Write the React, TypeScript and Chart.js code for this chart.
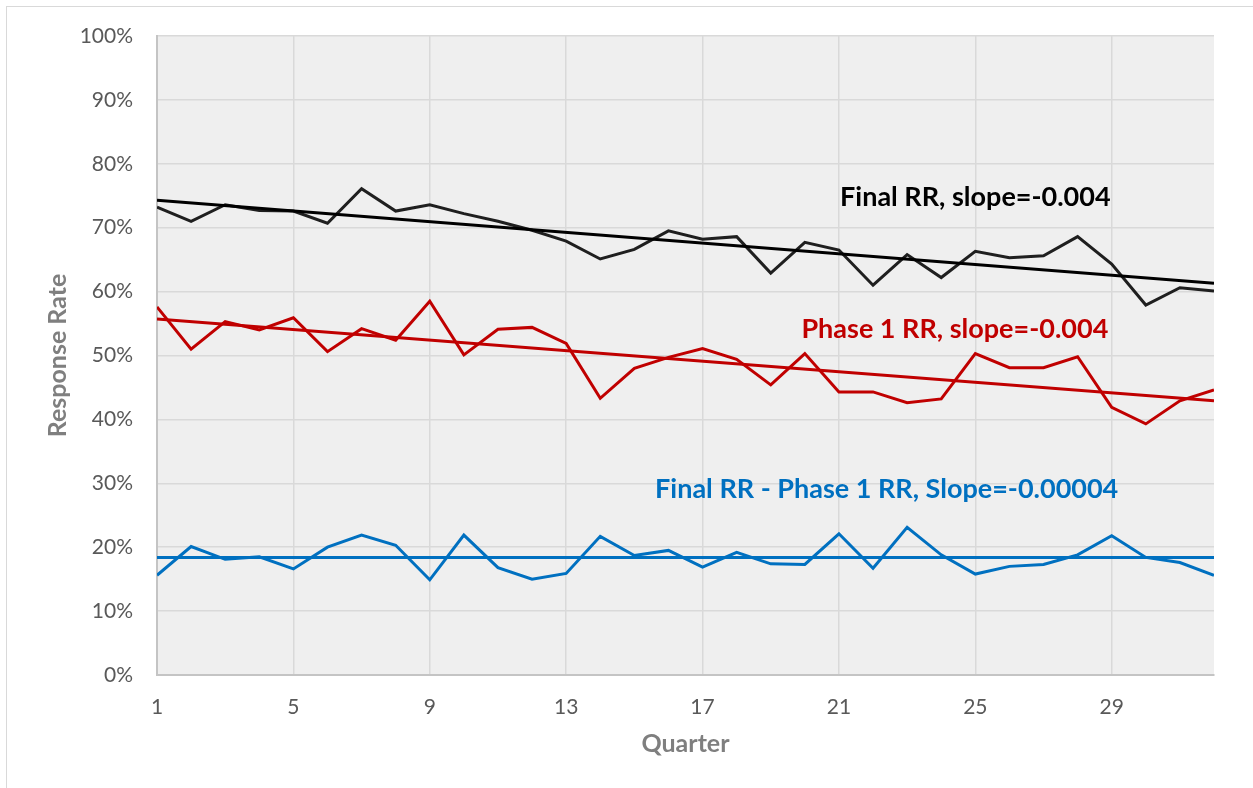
import React, { useEffect, useRef } from "react";
import { Chart, registerables } from "chart.js";

Chart.register(...registerables);

// ---- data ----
const quarters = [1, 2, 3, 4, 5, 6, 7, 8, 9, 10, 11, 12, 13, 14, 15, 16, 17, 18, 19, 20, 21, 22, 23, 24, 25, 26, 27, 28, 29, 30, 31, 32];
const finalRR = [73.2, 71.0, 73.6, 72.7, 72.6, 70.7, 76.1, 72.6, 73.6, 72.2, 71.0, 69.6, 67.9, 65.1, 66.6, 69.5, 68.2, 68.6, 62.9, 67.7, 66.5, 61.0, 65.8, 62.2, 66.3, 65.3, 65.6, 68.6, 64.3, 57.9, 60.6, 60.1];
const phase1RR = [57.6, 51.0, 55.3, 54.0, 55.9, 50.6, 54.2, 52.4, 58.5, 50.1, 54.1, 54.4, 51.9, 43.3, 48.0, 49.7, 51.1, 49.4, 45.4, 50.3, 44.3, 44.3, 42.6, 43.2, 50.3, 48.1, 48.1, 49.8, 41.9, 39.3, 42.9, 44.6];
const diffRR = [15.6, 20.1, 18.1, 18.5, 16.6, 20.0, 21.9, 20.3, 14.9, 21.9, 16.8, 15.0, 15.9, 21.7, 18.7, 19.5, 16.9, 19.2, 17.4, 17.3, 22.1, 16.7, 23.1, 18.8, 15.8, 17.0, 17.3, 18.8, 21.8, 18.4, 17.6, 15.6];

const trendX = [1, 32];
const finalTrend = [74.3, 61.3];
const phase1Trend = [55.7, 42.9];
const diffTrend = [18.4, 18.4];

const xTickValues = [1, 5, 9, 13, 17, 21, 25, 29];
const yTickStep = 10;

const labelTexts = ["Final RR, slope=-0.004", "Phase 1 RR, slope=-0.004", "Final RR - Phase 1 RR, Slope=-0.00004"];
const labelX = [25.0, 24.4, 22.4];
const labelY = [74.8, 54.1, 29.0];
const labelColors = ["#000000", "#c00000", "#0070c0"];

const FONT = "Lato, 'Open Sans', sans-serif";

const toPts = (xs: number[], ys: number[]) => xs.map((x, i) => ({ x, y: ys[i] }));

const bgPlugin = {
  id: "plotBg",
  beforeDraw(chart: any) {
    const { ctx, chartArea } = chart;
    ctx.save();
    ctx.fillStyle = "#efefef";
    ctx.fillRect(chartArea.left, chartArea.top, chartArea.right - chartArea.left, chartArea.bottom - chartArea.top);
    ctx.restore();
  },
};

const labelPlugin = {
  id: "trendLabels",
  afterDatasetsDraw(chart: any) {
    const { ctx, scales } = chart;
    ctx.save();
    ctx.font = `bold 27px ${FONT}`;
    ctx.textAlign = "center";
    ctx.textBaseline = "middle";
    labelTexts.forEach((t, i) => {
      ctx.fillStyle = labelColors[i];
      ctx.fillText(t, scales.x.getPixelForValue(labelX[i]), scales.y.getPixelForValue(labelY[i]));
    });
    ctx.restore();
  },
};

export default function App() {
  const ref = useRef<HTMLCanvasElement | null>(null);

  useEffect(() => {
    if (!ref.current) return;
    const lineDs = (label: string, xs: number[], ys: number[], color: string, order: number) => ({
      label,
      data: toPts(xs, ys),
      borderColor: color,
      backgroundColor: color,
      borderWidth: 3,
      pointRadius: 0,
      tension: 0,
      fill: false,
      order,
    });
    const chart = new Chart(ref.current, {
      type: "line",
      data: {
        datasets: [
          lineDs("Final RR", quarters, finalRR, "#1f1f1f", 6),
          lineDs("Phase 1 RR", quarters, phase1RR, "#c00000", 5),
          lineDs("Final RR - Phase 1 RR", quarters, diffRR, "#0070c0", 4),
          lineDs("Final trend", trendX, finalTrend, "#000000", 3),
          lineDs("Phase 1 trend", trendX, phase1Trend, "#c00000", 2),
          lineDs("Diff trend", trendX, diffTrend, "#0070c0", 1),
        ] as any,
      },
      options: {
        animation: false,
        responsive: false,
        devicePixelRatio: 1,
        layout: { padding: { left: 0, top: 29, right: 43, bottom: 22 } },
        plugins: { legend: { display: false }, tooltip: { enabled: false } },
        scales: {
          x: {
            type: "linear",
            min: 1,
            max: 32,
            afterBuildTicks: (s: any) => {
              s.ticks = xTickValues.map((v) => ({ value: v }));
            },
            afterFit: (s: any) => {
              s.height = 100;
            },
            grid: { color: "#d9d9d9", lineWidth: 1.5, drawTicks: false },
            border: { display: true, color: "#c4c4c4", width: 2 },
            ticks: {
              autoSkip: false,
              maxRotation: 0,
              padding: 20,
              color: "#595959",
              font: { family: FONT, size: 21 },
            },
            title: {
              display: true,
              text: "Quarter",
              color: "#7f7f7f",
              font: { family: FONT, size: 25, weight: "bold" },
              padding: { top: 0, bottom: 16 },
            },
          },
          y: {
            type: "linear",
            min: 0,
            max: 100,
            afterFit: (s: any) => {
              s.width = 150;
              s.paddingTop = 0;
              s.paddingBottom = 0;
            },
            grid: { color: "#d9d9d9", lineWidth: 1.5, drawTicks: false },
            border: { display: true, color: "#c4c4c4", width: 2 },
            ticks: {
              stepSize: yTickStep,
              padding: 24,
              color: "#595959",
              font: { family: FONT, size: 21 },
              callback: (v: any) => `${v}%`,
            },
            title: {
              display: true,
              text: "Response Rate",
              color: "#7f7f7f",
              font: { family: FONT, size: 25, weight: "bold" },
              padding: { top: 36, bottom: 0 },
            },
          },
        },
      } as any,
      plugins: [bgPlugin, labelPlugin],
    });
    return () => chart.destroy();
  }, []);

  return (
    <div style={{ position: "fixed", left: 0, top: 0, width: "100vw", height: "100vh", overflow: "hidden", background: "#fff" }}>
      <div
        style={{
          position: "absolute",
          left: 6,
          top: 6,
          width: 1250,
          height: 790,
          border: "1px solid #d9d9d9",
          background: "#fff",
        }}
      >
        <canvas ref={ref} width={1250} height={790} style={{ display: "block", width: 1250, height: 790 }} />
      </div>
    </div>
  );
}
